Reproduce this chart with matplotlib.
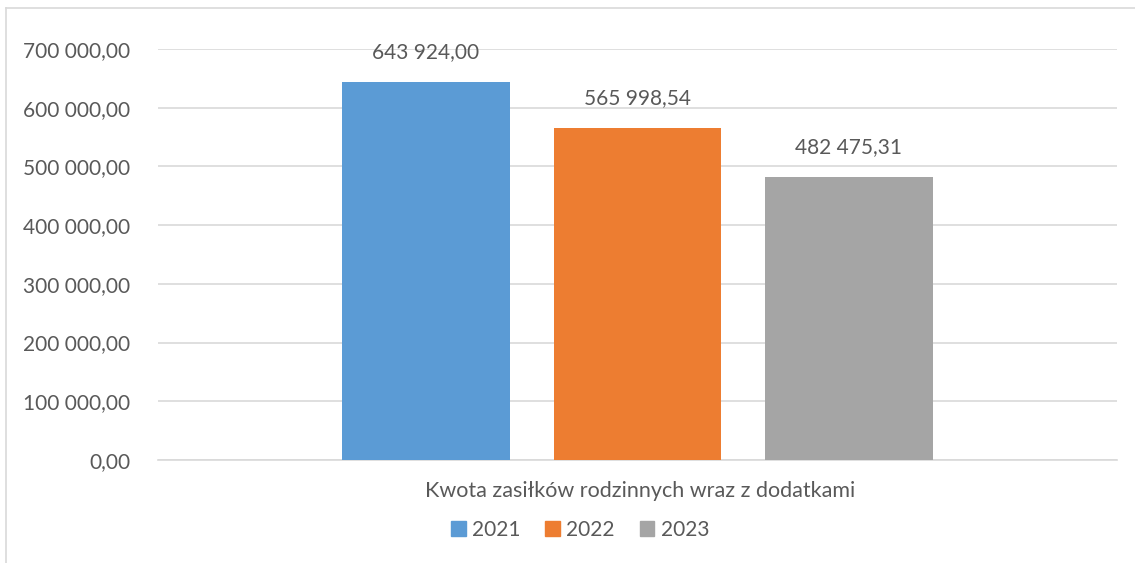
import matplotlib.pyplot as plt
from matplotlib.lines import Line2D
from matplotlib.patches import Patch

plt.rcParams['font.family'] = ['Lato', 'DejaVu Sans']

years = ['2021', '2022', '2023']
values = [643924.00, 565998.54, 482475.31]
colors = ['#5B9BD5', '#ED7D31', '#A5A5A5']
category = 'Kwota zasiłków rodzinnych wraz z dodatkami'
yticks = [0, 100000, 200000, 300000, 400000, 500000, 600000, 700000]
text_color = '#595959'


def fmt_pl(v):
    s = f'{v:,.2f}'
    return s.replace(',', ' ').replace('.', ',')


fig = plt.figure(figsize=(11.35, 5.63), dpi=100)
ax = fig.add_axes([0.1392, 0.1829, 0.8449, 0.7301])

positions = [-1, 0, 1]
bars = ax.bar(positions, values, width=0.794, color=colors, zorder=3)
for x, v in zip(positions, values):
    ax.annotate(fmt_pl(v), (x, v), xytext=(0, 14), textcoords='offset points',
                ha='center', va='bottom', fontsize=15, color=text_color)

ax.set_xlim(-2.267, 2.267)
ax.set_ylim(0, 700000)
ax.set_yticks(yticks)
ax.set_yticklabels([fmt_pl(t) for t in yticks], fontsize=15, color=text_color)
ax.tick_params(axis='y', length=0, pad=20)
ax.set_xticks([])
ax.grid(axis='y', color='#D9D9D9', linewidth=1.2, zorder=0)
for s in ['top', 'right', 'left']:
    ax.spines[s].set_visible(False)
ax.spines['bottom'].set_color('#D9D9D9')
ax.spines['bottom'].set_linewidth(1.2)

fig.text(640 / 1135, 1 - 491 / 563, category, ha='center', va='center',
         fontsize=15.5, color=text_color)

handles = [Patch(color=c) for c in colors]
fig.legend(handles, years, loc='center', bbox_to_anchor=(580 / 1135, 1 - 530 / 563),
           ncol=3, frameon=False, fontsize=15, labelcolor=text_color,
           handlelength=0.7, handleheight=0.7, handletextpad=0.3, columnspacing=1.2)

# chart border (top and left edges visible)
fig.add_artist(Line2D([6 / 1135, 6 / 1135], [0, 1 - 8 / 563], color='#D9D9D9', lw=1.2))
fig.add_artist(Line2D([6 / 1135, 1], [1 - 8 / 563, 1 - 8 / 563], color='#D9D9D9', lw=1.2))

fig.savefig('out.png', dpi=100)
